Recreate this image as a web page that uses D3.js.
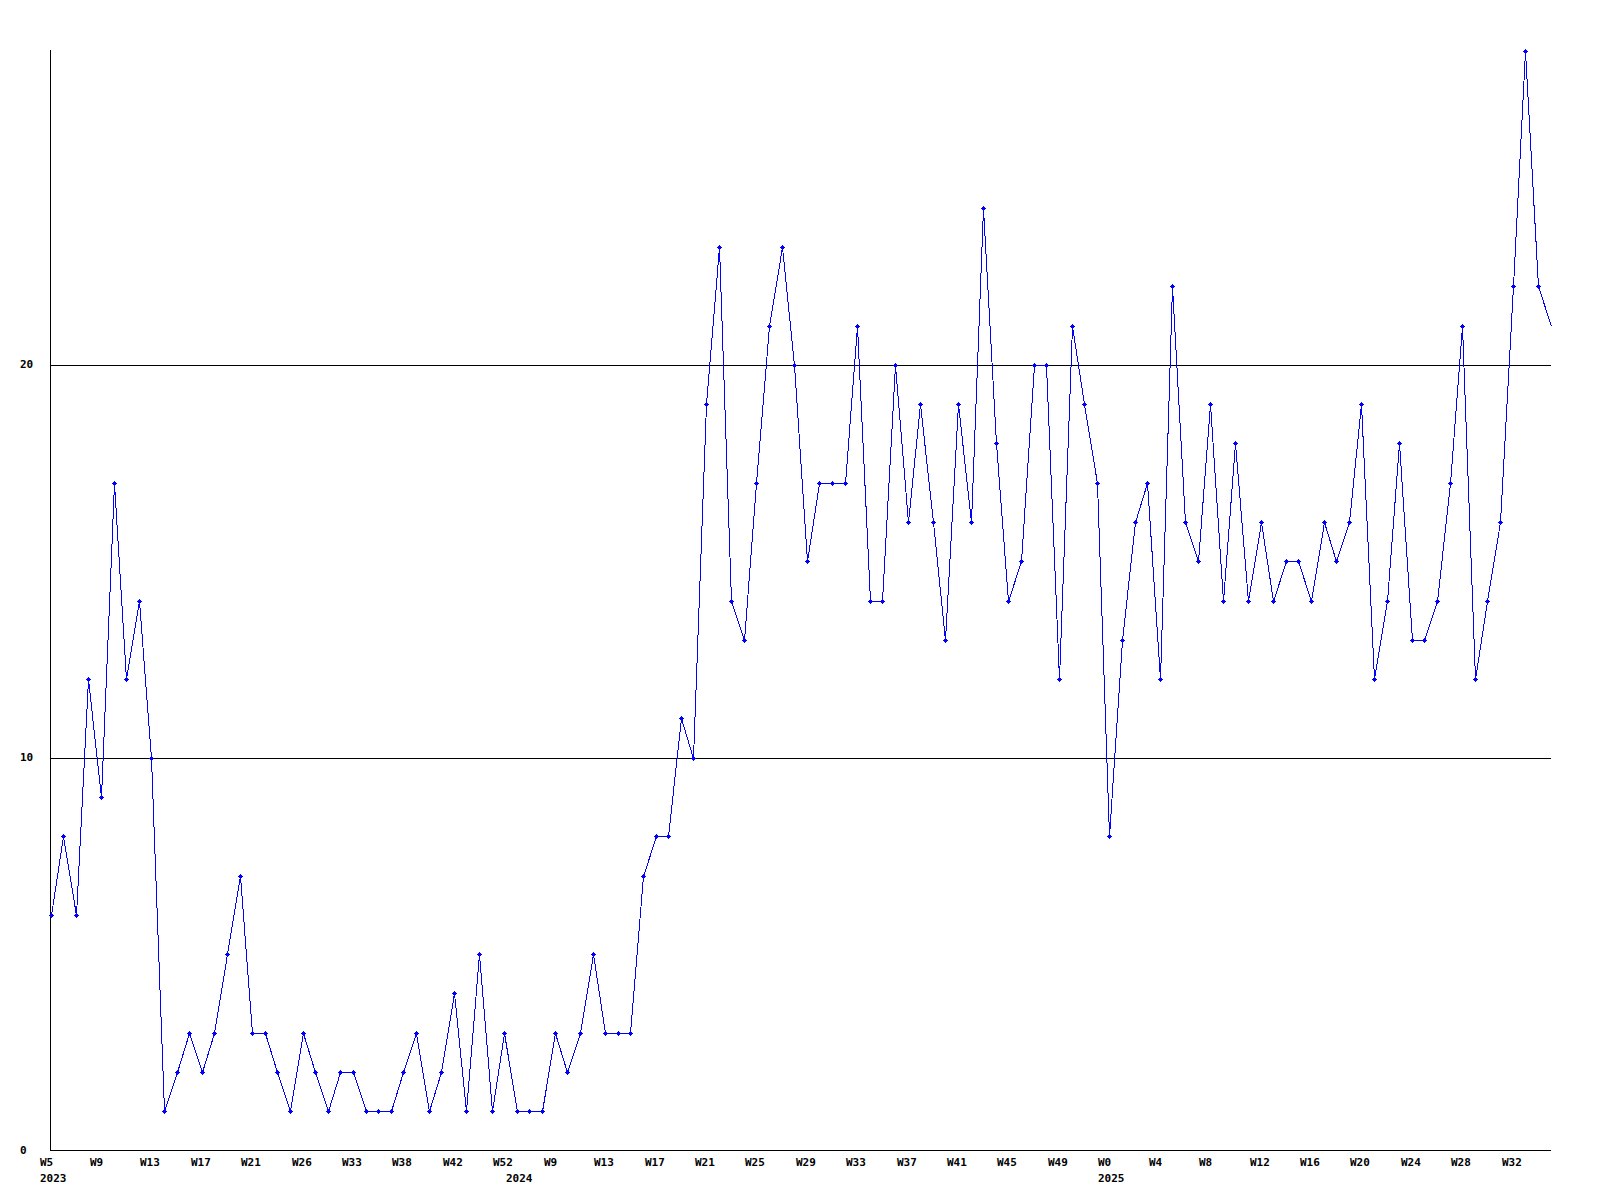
<!DOCTYPE html>
<html>
<head>
<meta charset="utf-8">
<script src="https://cdn.jsdelivr.net/npm/d3@7"></script>
<style>
  html, body { margin: 0; padding: 0; background: #ffffff; }
  svg { display: block; }
  text { font-family: "DejaVu Sans Mono", "Liberation Mono", monospace; font-size: 11px; font-weight: bold; fill: #000; }
</style>
</head>
<body>
<script>
// ---- data ----
const values = [
  6, 8, 6, 12, 9, 17, 12, 14, 10, 1,
  2, 3, 2, 3, 5, 7, 3, 3, 2, 1,
  3, 2, 1, 2, 2, 1, 1, 1, 2, 3,
  1, 2, 4, 1, 5, 1, 3, 1, 1, 1,
  3, 2, 3, 5, 3, 3, 3, 7, 8, 8,
  11, 10, 19, 23, 14, 13, 17, 21, 23, 20,
  15, 17, 17, 17, 21, 14, 14, 20, 16, 19,
  16, 13, 19, 16, 24, 18, 14, 15, 20, 20,
  12, 21, 19, 17, 8, 13, 16, 17, 12, 22,
  16, 15, 19, 14, 18, 14, 16, 14, 15, 15,
  14, 16, 15, 16, 19, 12, 14, 18, 13, 13,
  14, 17, 21, 12, 14, 16, 22, 28, 22, 21
];
// week labels shown on every 4th point
const tickLabels = [
  "W5", "W9", "W13", "W17", "W21", "W26", "W33", "W38", "W42", "W52",
  "W9", "W13", "W17", "W21", "W25", "W29", "W33", "W37", "W41", "W45", "W49",
  "W0", "W4", "W8", "W12", "W16", "W20", "W24", "W28", "W32"
];
const tickStep = 4;
// year labels at the first point of each year
const yearLabels = ["2023", "2024", "2025"];
const yearStartIndex = [0, 37, 84];
const yTicks = [0, 10, 20];
const yMax = 28;

// ---- layout ----
const W = 1600, H = 1200;
const svg = d3.select("body").append("svg").attr("width", W).attr("height", H);

const x = d3.scaleLinear().domain([0, values.length - 1]).range([50.5, 1550.5]);
const y = d3.scaleLinear().domain([0, yMax]).range([1150.5, 50.5]);

// grid lines
svg.append("g").selectAll("line").data(yTicks.filter(d => d > 0)).join("line")
  .attr("x1", 50).attr("x2", 1551)
  .attr("y1", d => Math.round(y(d)) + 0.5).attr("y2", d => Math.round(y(d)) + 0.5)
  .attr("stroke", "#000").attr("stroke-width", 1).attr("shape-rendering", "crispEdges");

// axes
svg.append("line").attr("x1", 50.5).attr("x2", 50.5).attr("y1", 50).attr("y2", 1151)
  .attr("stroke", "#000").attr("shape-rendering", "crispEdges");
svg.append("line").attr("x1", 50).attr("x2", 1551).attr("y1", 1150.5).attr("y2", 1150.5)
  .attr("stroke", "#000").attr("shape-rendering", "crispEdges");

// y labels
svg.append("g").selectAll("text").data(yTicks).join("text")
  .attr("x", 20).attr("y", d => Math.round(y(d)) + 3)
  .text(d => d);

// x labels
svg.append("g").selectAll("text").data(tickLabels).join("text")
  .attr("x", (d, i) => Math.round(x(i * tickStep)) - 11)
  .attr("y", 1166)
  .text(d => d);

svg.append("g").selectAll("text").data(yearLabels).join("text")
  .attr("x", (d, i) => Math.round(x(yearStartIndex[i])) - 11)
  .attr("y", 1181.5)
  .text(d => d);

// line
const line = d3.line().x((d, i) => Math.round(x(i)) + 0.5).y(d => Math.round(y(d)) + 0.5);
svg.append("path").datum(values)
  .attr("d", line)
  .attr("fill", "none").attr("stroke", "#0000ff").attr("stroke-width", 1)
  .attr("shape-rendering", "crispEdges");

// markers (small bold crosses)
const marker = "M-2,0h5v1h-5z M0,-2h1v5h-1z M-1,-1h3v3h-3z";
svg.append("g").selectAll("path").data(values.slice(0, values.length - 1)).join("path")
  .attr("transform", (d, i) => `translate(${Math.round(x(i))},${Math.round(y(d))})`)
  .attr("d", marker)
  .attr("fill", "#0000ff")
  .attr("shape-rendering", "crispEdges");
</script>
</body>
</html>
